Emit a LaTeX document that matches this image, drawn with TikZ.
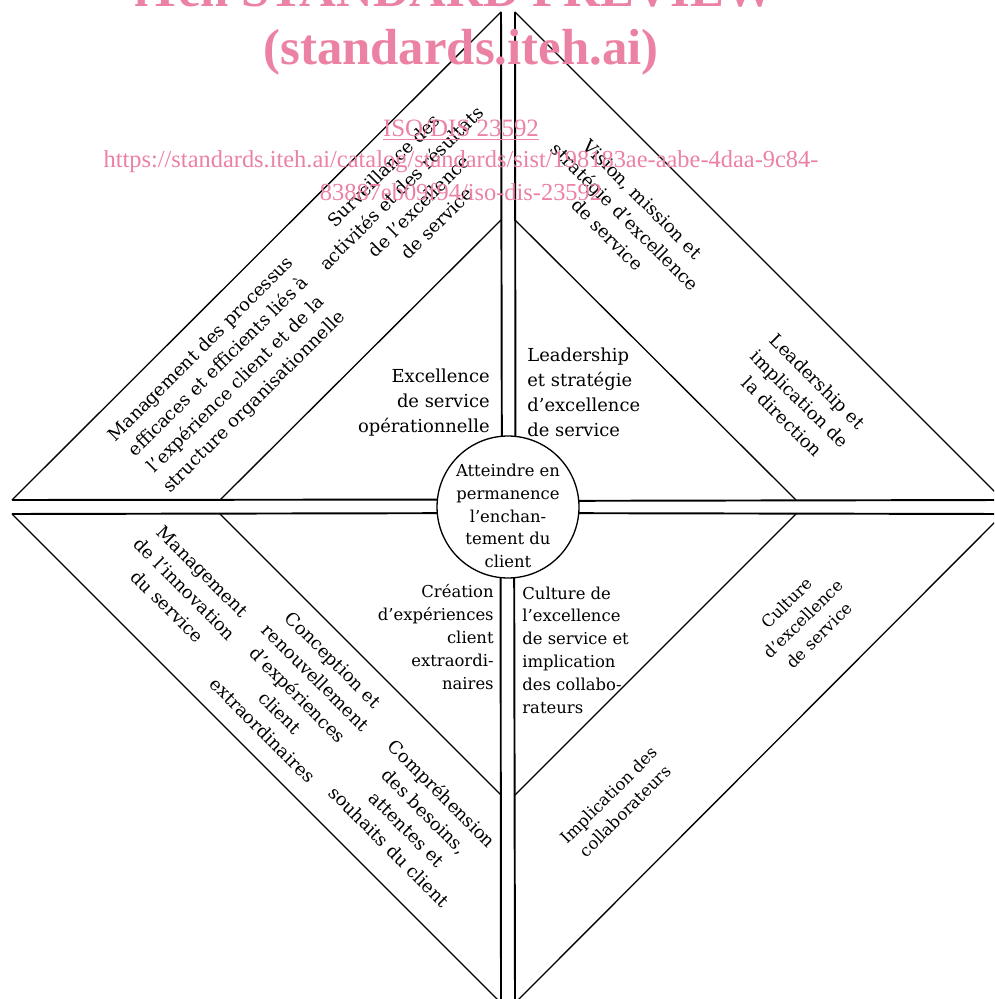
\documentclass[tikz,border=0pt]{standalone}
\usepackage{fontspec}
\setmainfont{DejaVu Serif}
\newfontfamily\wmfont{Liberation Serif}
\definecolor{wmpink}{RGB}{236,130,163}
\begin{document}
\begin{tikzpicture}[x=0.02cm,y=-0.02cm,
	leg/.style={line width=1.1pt},
	edge/.style={line width=0.75pt},
	lbl/.style={font=\fontsize{10.2}{14.2}\selectfont, inner sep=0pt, align=center},
	lblsm/.style={font=\fontsize{9.35}{13}\selectfont, inner sep=0pt, align=center},
	wm/.style={text=wmpink, inner sep=0pt, anchor=base}]
		\useasboundingbox (0,0) rectangle (994,999);
		\clip (0,0) rectangle (994,999);
		% centre
		\node (goal) at (508,507) [circle, draw, edge, minimum size=2.84cm, outer sep=0pt] {};
		\node (goaltxt) at (508,516) [lblsm] {Atteindre en\\permanence\\l’enchan-\\tement du\\client};
		% corners of the four triangles
		\coordinate (nw) at (501,12);   \coordinate (ne) at (515,12);
		\coordinate (wn) at (12,500);   \coordinate (ws) at (12,514);
		\coordinate (en) at (1003,500); \coordinate (es) at (1003,514);
		\coordinate (sw) at (501,1003); \coordinate (se) at (515,1003);
		\draw[leg] (nw) -- (goal.95.7);
		\draw[leg] (ne) -- (goal.84.3);
		\draw[leg] (sw) -- (goal.264.3);
		\draw[leg] (se) -- (goal.275.7);
		\draw[leg] (wn) -- (goal.174.3);
		\draw[leg] (ws) -- (goal.185.7);
		\draw[leg] (en) -- (goal.5.7);
		\draw[leg] (es) -- (goal.-5.7);
		\draw[edge] (wn) -- (nw);
		\draw[edge] (ne) -- (en);
		\draw[edge] (ws) -- (sw);
		\draw[edge] (es) -- (se);
		% inner triangles
		\draw[edge] (220,500) -- (501,220);
		\draw[edge] (515,220) -- (796,500);
		\draw[edge] (220,514) -- (501,795);
		\draw[edge] (796,514) -- (515,795);
		% top left
		\node (opex) at (490,403) [lbl, anchor=east, align=right] {Excellence\\de service\\opérationnelle};
		\node (proc) at (228,376) [lbl, rotate=45] {Management des processus\\efficaces et efficients liés à\\l’expérience client et de la\\structure organisationnelle};
		\node (monit) at (410,197) [lbl, rotate=45] {Surveillance des\\activités et des résultats\\de l’excellence\\de service};
		% top right
		\node (lead) at (527,392) [lbl, anchor=west, align=left] {Leadership\\et stratégie\\d’excellence\\de service};
		\node (vision) at (625,217) [lbl, rotate=-45] {Vision, mission et\\stratégie d’excellence\\de service};
		\node (direct) at (800,399) [lbl, rotate=-45] {Leadership et\\implication de\\la direction};
		% bottom left
		\node (creat) at (494,637) [lblsm, anchor=east, align=right] {Création\\d’expériences\\client\\extraordi-\\naires};
		\node (innov) at (185,589) [lbl, rotate=-45] {Management\\de l’innovation\\du service};
		\node (design) at (298,695) [lbl, rotate=-45] {Conception et\\renouvellement\\d’expériences\\client\\extraordinaires};
		\node (needs) at (416,820) [lbl, rotate=-45] {Compréhension\\des besoins,\\attentes et\\souhaits du client};
		% bottom right
		\node (cultin) at (522,650) [lblsm, anchor=west, align=left] {Culture de\\l’excellence\\de service et\\implication\\des collabo-\\rateurs};
		\node (cultr) at (803,619) [lblsm, rotate=45] {Culture\\d’excellence\\de service};
		\node (staff) at (617,803) [lblsm, rotate=45] {Implication des\\collaborateurs};
		% watermark
		\node (wmtop) at (455,7) [wm, font=\wmfont\bfseries\fontsize{28.9}{30}\selectfont] {iTeh STANDARD PREVIEW};
		\node (wmsite) at (461,65) [wm, font=\wmfont\bfseries\fontsize{28.9}{30}\selectfont] {(standards.iteh.ai)};
		\node (wmiso) at (461,137) [wm, font=\wmfont\fontsize{14.2}{16}\selectfont] {\underline{ISO/DIS 23592}};
		\node (wmurl) at (461,168) [wm, font=\wmfont\fontsize{13.9}{16}\selectfont] {https://standards.iteh.ai/catalog/standards/sist/198183ae-aabe-4daa-9c84-};
		\node (wmurlb) at (461,201) [wm, font=\wmfont\fontsize{13.9}{16}\selectfont] {83887eb09f94/iso-dis-23592};
\end{tikzpicture}
\end{document}
